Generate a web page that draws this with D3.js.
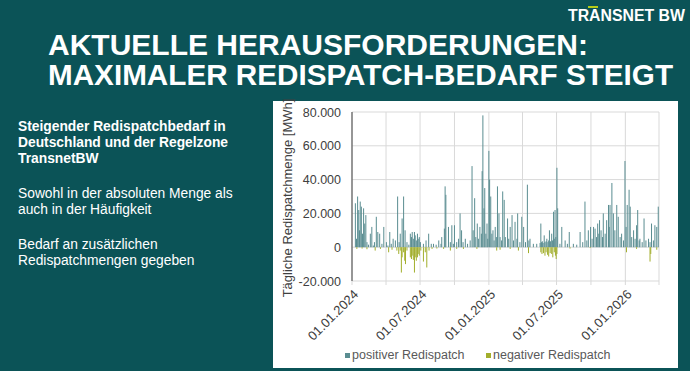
<!DOCTYPE html>
<html>
<head>
<meta charset="utf-8">
<script src="https://cdn.jsdelivr.net/npm/d3@7"></script>
<style>
  body { margin: 0; background: #0b5357; }
  svg { display: block; font-family: "Liberation Sans", Arial, sans-serif; }
</style>
</head>
<body>
<div id="vis"></div>
<script>
// daily redispatch, [days since 01.01.2024, MWh]
const startDate = "2024-01-01";
const endDate = "2026-04-01";
const positiveBars = [[9,26000],[12,5000],[15,30000],[18,22000],[20,10000],[22,27000],[25,24000],[28,8000],[31,23000],[34,14000],[37,19000],[40,3000],[44,1500],[49,8000],[53,12000],[57,1000],[60,3000],[65,18000],[69,9000],[74,8000],[80,2000],[85,12000],[92,3000],[96,1000],[101,9000],[105,2000],[110,5000],[116,4000],[122,30000],[126,3000],[129,8000],[134,17000],[138,30000],[142,10000],[147,3000],[152,1500],[156,8000],[159,6000],[161,9000],[164,5000],[167,9000],[169,7000],[172,4000],[175,8000],[177,5000],[180,6000],[183,3000],[191,2000],[198,4000],[205,8000],[212,2000],[218,2000],[225,1500],[232,4000],[238,2000],[240,6000],[247,11000],[249,36000],[251,31000],[258,12000],[263,3000],[267,13000],[271,2000],[274,13000],[280,3000],[285,5000],[289,20000],[293,10000],[297,3000],[303,5000],[309,2000],[316,4000],[321,48000],[324,10000],[328,29000],[331,6000],[335,14000],[338,5000],[342,12000],[346,8000],[348,45000],[350,78000],[353,23000],[355,35000],[358,8000],[361,14000],[363,5000],[366,57000],[368,40000],[371,30000],[374,8000],[377,10000],[380,4000],[383,12000],[386,6000],[389,36000],[393,20000],[396,6000],[400,4000],[403,33000],[407,28000],[410,6000],[416,17000],[419,5000],[423,12000],[428,19000],[432,4000],[436,15000],[441,5000],[443,20000],[449,3000],[454,18000],[459,12000],[464,3000],[469,37000],[473,4000],[476,5000],[485,2000],[494,2000],[503,2500],[505,14000],[507,3000],[509,3500],[511,2500],[514,7000],[516,3000],[519,3500],[521,5000],[524,3000],[526,4000],[528,10000],[531,3500],[534,8000],[536,4000],[539,21000],[541,5000],[543,22000],[545,6000],[548,47000],[550,23000],[556,2000],[561,12000],[570,4000],[576,2000],[581,9000],[592,2000],[601,1500],[610,9000],[617,3000],[623,27000],[628,4000],[632,10000],[638,12000],[642,5000],[646,12000],[650,11000],[654,6000],[657,14000],[660,8000],[662,16000],[666,10000],[670,6000],[672,20000],[677,8000],[681,16000],[686,25000],[688,12000],[690,25000],[695,38000],[699,20000],[703,10000],[708,25000],[712,18000],[717,6000],[721,8000],[726,4000],[730,51000],[733,12000],[736,25000],[741,34000],[744,24000],[748,6000],[753,10000],[757,5000],[761,13000],[764,22000],[768,4000],[770,5000],[776,3000],[781,17000],[786,4000],[793,5000],[797,3000],[801,14000],[806,4000],[810,13000],[815,12000],[819,24000]];
const negativeBars = [[13,-1000],[27,-800],[40,-1200],[62,-2000],[76,-1000],[98,-3000],[107,-1500],[120,-2000],[125,-4000],[129,-2000],[132,-15000],[134,-6000],[138,-3000],[141,-8000],[143,-10000],[147,-2000],[156,-6000],[159,-7000],[161,-5000],[164,-7500],[167,-15000],[169,-6000],[172,-8000],[175,-6000],[177,-4000],[180,-5000],[184,-2000],[191,-8500],[196,-3000],[200,-12000],[206,-2000],[214,-1000],[227,-800],[245,-1000],[263,-2000],[280,-1000],[298,-1000],[334,-1000],[387,-2000],[396,-1500],[423,-1000],[445,-2000],[472,-3500],[505,-3000],[508,-4000],[512,-3500],[516,-5000],[519,-3000],[523,-4500],[526,-5500],[530,-3500],[534,-4000],[537,-6000],[541,-3000],[544,-5000],[546,-7000],[548,-4000],[583,-800],[637,-500],[734,-3000],[761,-1000],[797,-8500],[799,-4000],[815,-1500]];

const yTicks = [-20000, 0, 20000, 40000, 60000, 80000];
const gridDates = ["2024-01-01","2024-04-01","2024-07-01","2024-10-01","2025-01-01","2025-04-01","2025-07-01","2025-10-01","2026-01-01","2026-04-01"];
const labelDates = ["2024-01-01","2024-07-01","2025-01-01","2025-07-01","2026-01-01"];
const seriesNames = ["positiver Redispatch", "negativer Redispatch"];
const seriesColors = ["#5a8d91", "#a2ae2c"];

const titleLines = ["AKTUELLE HERAUSFORDERUNGEN:", "MAXIMALER REDISPATCH-BEDARF STEIGT"];
const bulletBlocks = [
  { bold: true, lines: ["Steigender Redispatchbedarf in", "Deutschland und der Regelzone", "TransnetBW"] },
  { bold: false, lines: ["Sowohl in der absoluten Menge als", "auch in der Häufigkeit"] },
  { bold: false, lines: ["Bedarf an zusätzlichen", "Redispatchmengen gegeben"] }
];

const W = 690, H = 371;
const parse = d3.utcParse("%Y-%m-%d");
const fmtDate = d3.utcFormat("%d.%m.%Y");
const de = d3.formatLocale({ decimal: ",", thousands: ".", grouping: [3], currency: ["", " €"], minus: "-" });
const fmtNum = de.format(",");

const svg = d3.select("#vis").append("svg").attr("width", W).attr("height", H);
svg.append("rect").attr("width", W).attr("height", H).attr("fill", "#0b5357");

////////// header //////////
svg.append("text")
  .attr("x", 685).attr("y", 21)
  .attr("text-anchor", "end")
  .attr("font-size", 16).attr("font-weight", "bold")
  .attr("fill", "#fff")
  .attr("textLength", 117).attr("lengthAdjust", "spacingAndGlyphs")
  .text("TRANSNET BW");
svg.append("line")
  .attr("x1", 588).attr("x2", 598).attr("y1", 7).attr("y2", 7)
  .attr("stroke", "#b5cc18").attr("stroke-width", 2);

const titleLen = [540, 625];
svg.selectAll("text.title")
  .data(titleLines)
  .enter().append("text")
  .attr("class", "title")
  .attr("x", 48)
  .attr("y", (d, i) => 55 + i * 30)
  .attr("font-size", 30).attr("font-weight", "bold")
  .attr("fill", "#fff")
  .attr("textLength", (d, i) => titleLen[i]).attr("lengthAdjust", "spacingAndGlyphs")
  .text(d => d);

////////// left text //////////
let ty = 131;
bulletBlocks.forEach(b => {
  b.lines.forEach(l => {
    svg.append("text")
      .attr("x", 18).attr("y", ty)
      .attr("font-size", 13.8).attr("font-weight", b.bold ? "bold" : "normal")
      .attr("fill", "#fff")
      .text(l);
    ty += 16;
  });
  ty += 19;
});

////////// chart panel //////////
svg.append("rect")
  .attr("x", 273).attr("y", 101).attr("width", 405).attr("height", 267)
  .attr("fill", "#fff");

const x = d3.scaleUtc().domain([parse(startDate), parse(endDate)]).range([352, 659]);
const y = d3.scaleLinear().domain([-20000, 80000]).range([281, 112]);
const day = d => d3.utcDay.offset(parse(startDate), d);

const plot = svg.append("g");

plot.selectAll("line.hgrid")
  .data(yTicks)
  .enter().append("line")
  .attr("x1", x.range()[0]).attr("x2", x.range()[1])
  .attr("y1", d => y(d)).attr("y2", d => y(d))
  .attr("stroke", "#d9d9d9").attr("stroke-width", 1);

plot.selectAll("line.vgrid")
  .data(gridDates)
  .enter().append("line")
  .attr("x1", d => x(parse(d))).attr("x2", d => x(parse(d)))
  .attr("y1", y.range()[1]).attr("y2", y.range()[0] + 4)
  .attr("stroke", "#d9d9d9").attr("stroke-width", 1);

plot.selectAll("rect.pos")
  .data(positiveBars)
  .enter().append("rect")
  .attr("x", d => x(day(d[0])) - 0.5)
  .attr("width", 1)
  .attr("y", d => y(d[1]))
  .attr("height", d => y(0) - y(d[1]))
  .attr("fill", seriesColors[0]);

plot.selectAll("rect.neg")
  .data(negativeBars)
  .enter().append("rect")
  .attr("x", d => x(day(d[0])) - 0.5)
  .attr("width", 1)
  .attr("y", y(0))
  .attr("height", d => y(d[1]) - y(0))
  .attr("fill", seriesColors[1]);

// y axis line
plot.append("line")
  .attr("x1", 352).attr("x2", 352)
  .attr("y1", y.range()[1]).attr("y2", y.range()[0])
  .attr("stroke", "#404040").attr("stroke-width", 1);

plot.selectAll("text.ylab")
  .data(yTicks)
  .enter().append("text")
  .attr("x", 341).attr("y", d => y(d) + 4.5)
  .attr("text-anchor", "end")
  .attr("font-size", 12.5).attr("fill", "#404040")
  .text(d => fmtNum(d));

plot.append("text")
  .attr("transform", "translate(292,198) rotate(-90)")
  .attr("text-anchor", "middle")
  .attr("font-size", 13).attr("fill", "#404040")
  .text("Tägliche Redispatchmenge [MWh]");

plot.selectAll("text.xlab")
  .data(labelDates)
  .enter().append("text")
  .attr("transform", d => "translate(" + (x(parse(d)) + 4) + ",292) rotate(-45)")
  .attr("text-anchor", "end")
  .attr("dy", "0.35em")
  .attr("font-size", 13).attr("fill", "#404040")
  .text(d => fmtDate(parse(d)));

////////// legend //////////
const legendX = [345, 486];
const legend = svg.selectAll("g.legend")
  .data(seriesNames)
  .enter().append("g")
  .attr("transform", (d, i) => "translate(" + legendX[i] + ",353)");
legend.append("rect")
  .attr("width", 5).attr("height", 5)
  .attr("fill", (d, i) => seriesColors[i]);
legend.append("text")
  .attr("x", 7).attr("y", 6)
  .attr("font-size", 12.5).attr("fill", "#595959")
  .text(d => d);
</script>
</body>
</html>
